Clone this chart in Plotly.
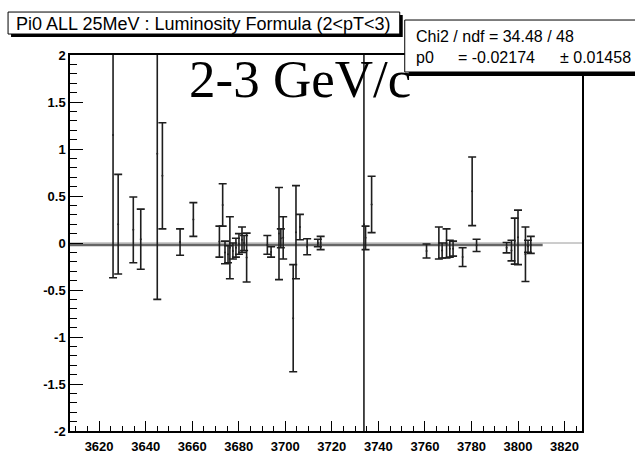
import plotly.graph_objects as go

# Asymmetry per run (x = run index), symmetric errors
run = [3626.0, 3628.2, 3634.7, 3637.9, 3645.0, 3647.2, 3654.8, 3660.5,
       3671.7, 3673.1, 3674.1, 3675.4, 3676.2, 3677.5, 3678.8, 3680.1,
       3681.4, 3682.3, 3683.4, 3692.3, 3693.9, 3697.3, 3698.1, 3699.1,
       3703.4, 3704.6, 3706.3, 3709.4, 3714.0, 3715.2, 3733.8, 3734.5,
       3737.1, 3760.7, 3766.0, 3767.4, 3769.3, 3770.7, 3772.1, 3776.2,
       3780.3, 3782.2, 3795.1, 3797.2, 3798.6, 3800.0, 3803.2, 3804.3,
       3805.5]
all_val = [1.15, 0.20, 0.14, 0.04, 0.95, 0.715, 0.01, 0.25,
           0.015, 0.405, -0.10, -0.12, -0.05, -0.085, -0.05, -0.01,
           0.035, 0.0, -0.155, -0.02, -0.095, 0.10, 0.05, 0.055,
           -0.80, 0.115, 0.17, -0.04, 0.0, 0.0, 0.2, 0.055,
           0.41, -0.085, 0.0, -0.08, -0.005, -0.06, -0.06, -0.15,
           0.55, -0.025, -0.05, -0.08, 0.02, 0.06, -0.12, -0.035,
           -0.02]
all_err = [1.52, 0.53, 0.35, 0.32, 1.55, 0.565, 0.14, 0.18,
           0.165, 0.225, 0.12, 0.09, 0.33, 0.085, 0.10, 0.11,
           0.135, 0.08, 0.26, 0.10, 0.055, 0.49, 0.10, 0.225,
           0.57, 0.495, 0.135, 0.085, 0.04, 0.07, 2.6, 0.125,
           0.30, 0.075, 0.17, 0.08, 0.155, 0.09, 0.08, 0.10,
           0.365, 0.065, 0.055, 0.11, 0.245, 0.29, 0.29, 0.065,
           0.09]

# Constant fit result
p0 = -0.02174
p0_err = 0.01458
chi2 = 34.48
ndf = 48
fit_range = [3607.5, 3810.6]

x_range = [3607.5, 3827.5]
y_range = [-2.0, 2.0]
x_tickvals = [3620, 3640, 3660, 3680, 3700, 3720, 3740, 3760, 3780, 3800, 3820]
y_tickvals = [-2, -1.5, -1, -0.5, 0, 0.5, 1, 1.5, 2]
y_ticktext = ["-2", "-1.5", "-1", "-0.5", "0", "0.5", "1", "1.5", "2"]

title_text = "Pi0 ALL 25MeV : Luminosity Formula (2<pT<3)"
label_text = "2-3 GeV/c"

W, H = 635, 455
L, R, T, B = 70.0, 582.4, 55.0, 431.3


def xp(px):
    return (px - L) / (R - L)


def yp(py):
    return (B - py) / (B - T)


fig = go.Figure()

# reference line at zero
fig.add_trace(go.Scatter(
    x=x_range, y=[0, 0], mode="lines",
    line=dict(color="#9a9a9a", width=1), hoverinfo="skip", showlegend=False))

# fitted constant
fig.add_trace(go.Scatter(
    x=fit_range, y=[p0, p0], mode="lines",
    line=dict(color="#666666", width=2.5), hoverinfo="skip", showlegend=False))

# data points with error bars
fig.add_trace(go.Scatter(
    x=run, y=all_val, mode="markers",
    marker=dict(size=2, color="#222222"),
    error_y=dict(type="data", array=all_err, visible=True,
                 color="#1e1e1e", thickness=1.6, width=4),
    showlegend=False))

font_sans = "Liberation Sans, Arial, sans-serif"
tick_font = dict(family=font_sans, size=13, color="black", weight="bold")

fig.update_xaxes(
    range=x_range, tickvals=x_tickvals,
    ticks="inside", ticklen=10, tickwidth=1.2, tickcolor="black",
    minor=dict(dtick=5, tick0=3620, ticks="inside", ticklen=5,
               tickwidth=1, tickcolor="black", showgrid=False),
    showline=True, linecolor="black", linewidth=1.5, mirror=True,
    showgrid=False, zeroline=False, automargin=False,
    ticklabelstandoff=3, tickfont=tick_font)

fig.update_yaxes(
    range=y_range, tickvals=y_tickvals, ticktext=y_ticktext,
    ticks="inside", ticklen=13, tickwidth=1.2, tickcolor="black",
    minor=dict(dtick=0.1, tick0=0, ticks="inside", ticklen=7,
               tickwidth=1, tickcolor="black", showgrid=False),
    showline=True, linecolor="black", linewidth=1.5, mirror=True,
    showgrid=False, zeroline=False, automargin=False,
    tickfont=tick_font)

shapes = [
    # title box with drop shadow
    dict(type="rect", xref="paper", yref="paper",
         x0=xp(11), x1=xp(403), y0=yp(37), y1=yp(15),
         fillcolor="black", line=dict(width=0), layer="above"),
    dict(type="rect", xref="paper", yref="paper",
         x0=xp(8), x1=xp(400), y0=yp(34), y1=yp(12),
         fillcolor="white", line=dict(color="black", width=1), layer="above"),
    # statistics box with drop shadow
    dict(type="rect", xref="paper", yref="paper",
         x0=xp(409), x1=xp(650), y0=yp(76), y1=yp(24),
         fillcolor="black", line=dict(width=0), layer="above"),
    dict(type="rect", xref="paper", yref="paper",
         x0=xp(405), x1=xp(650), y0=yp(72), y1=yp(20),
         fillcolor="white", line=dict(color="black", width=1), layer="above"),
]

stats_font = dict(family=font_sans, size=16, color="black")
annotations = [
    dict(text=title_text, xref="paper", yref="paper",
         x=xp(204), y=yp(23.5), xanchor="center", yanchor="middle",
         showarrow=False, font=dict(family=font_sans, size=18, color="black")),
    dict(text=f"Chi2 / ndf = {chi2:.2f} / {ndf}", xref="paper", yref="paper",
         x=xp(414), y=yp(36), xanchor="left", yanchor="middle",
         showarrow=False, font=stats_font),
    dict(text="p0", xref="paper", yref="paper",
         x=xp(414), y=yp(58), xanchor="left", yanchor="middle",
         showarrow=False, font=stats_font),
    dict(text=f"= {p0:.5f}", xref="paper", yref="paper",
         x=xp(456), y=yp(58), xanchor="left", yanchor="middle",
         showarrow=False, font=stats_font),
    dict(text=f"\u00b1 {p0_err:.5f}", xref="paper", yref="paper",
         x=xp(558), y=yp(58), xanchor="left", yanchor="middle",
         showarrow=False, font=stats_font),
    dict(text=label_text, xref="paper", yref="paper",
         x=xp(300), y=yp(79), xanchor="center", yanchor="middle",
         showarrow=False,
         font=dict(family="Liberation Serif, Times New Roman, serif",
                   size=53, color="black")),
]

fig.update_layout(
    width=W, height=H,
    margin=dict(l=L, r=W - R, t=T, b=H - B, pad=0),
    plot_bgcolor="white", paper_bgcolor="white",
    shapes=shapes, annotations=annotations,
    showlegend=False)

fig.write_html("out.html")
